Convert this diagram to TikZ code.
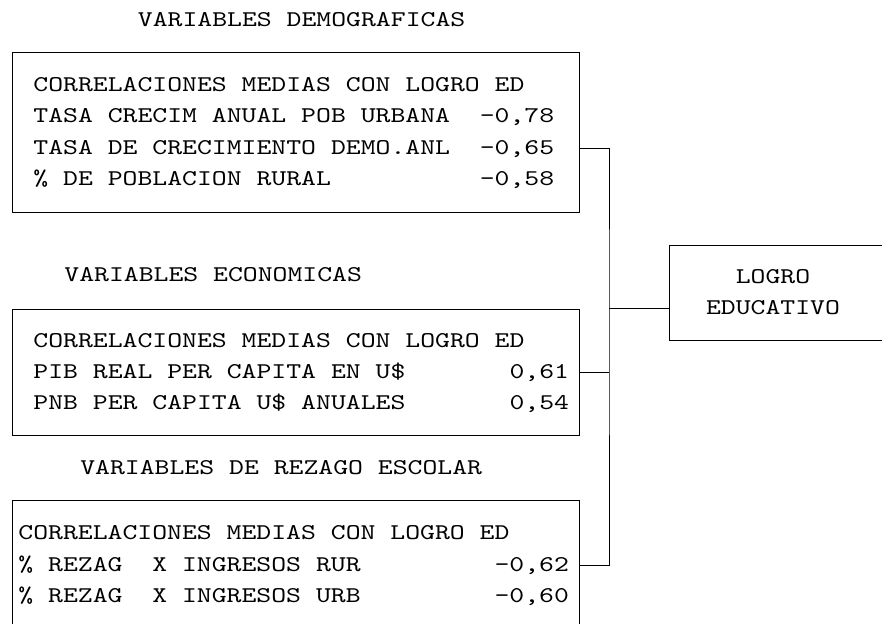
\documentclass[tikz,border=0pt]{standalone}
\usepackage{fontspec}
\setmonofont{lmmono10-regular.otf}[FakeStretch=1.26]
\usepackage{tikz}
\usetikzlibrary{positioning}

\begin{document}
\begin{tikzpicture}[
  mono/.style={font=\ttfamily\fontsize{16}{22.3}\selectfont},
  varbox/.style={mono, draw, line width=0.6pt, anchor=north west,
    minimum width=14.175cm, inner xsep=0.15cm, text width=13.875cm,
    text height=11pt, align=flush left},
  sangria/.style={execute at begin node={\leftskip=0.375cm}},
  titulo/.style={mono, inner sep=0pt},
  bus/.style={line width=0.6pt},
]
  \useasboundingbox (0,0) rectangle (22.05,-15.575);

  \node[titulo] (t1) at (7.54,-0.5) {VARIABLES DEMOGRAFICAS};
  \node[varbox, sangria, minimum height=4.0cm] (demo) at (0.3,-1.3)
    {CORRELACIONES MEDIAS CON LOGRO ED\\
     TASA CRECIM ANUAL POB URBANA~~-0,78\\
     TASA DE CRECIMIENTO DEMO.ANL~~-0,65\\
     \% DE POBLACION RURAL~~~~~~~~~~-0,58};

  \node[titulo] (t2) at (5.33,-6.875) {VARIABLES ECONOMICAS};
  \node[varbox, sangria, minimum height=3.15cm] (econ) at (0.3,-7.725)
    {CORRELACIONES MEDIAS CON LOGRO ED\\
     PIB REAL PER CAPITA EN U\$~~~~~~~0,61\\
     PNB PER CAPITA U\$ ANUALES~~~~~~~0,54};

  \node[titulo] (t3) at (7.03,-11.7) {VARIABLES DE REZAGO ESCOLAR};
  \node[varbox, minimum height=3.225cm] (rezago) at (0.3,-12.5)
    {CORRELACIONES MEDIAS CON LOGRO ED\\
     \% REZAG~~X INGRESOS RUR~~~~~~~~~-0,62\\
     \% REZAG~~X INGRESOS URB~~~~~~~~~-0,60};

  \node[draw, line width=0.6pt, anchor=north west, minimum width=7cm,
    minimum height=2.375cm] (logro) at (16.725,-6.125) {};
  \node[titulo, align=flush center, font=\ttfamily\fontsize{16}{22}\selectfont]
    (logrotxt) at (19.325,-7.3125) {LOGRO\\EDUCATIVO};

  \coordinate (nodo) at (15.225,-7.7);

  \draw[bus] ([yshift=-0.4cm]demo.east) -| (nodo) |- (rezago.east);
  \draw[bus] (econ.east) -- (econ.east -| nodo);
  \draw[bus] (nodo) -- (nodo -| logro.west);
\end{tikzpicture}
\end{document}
